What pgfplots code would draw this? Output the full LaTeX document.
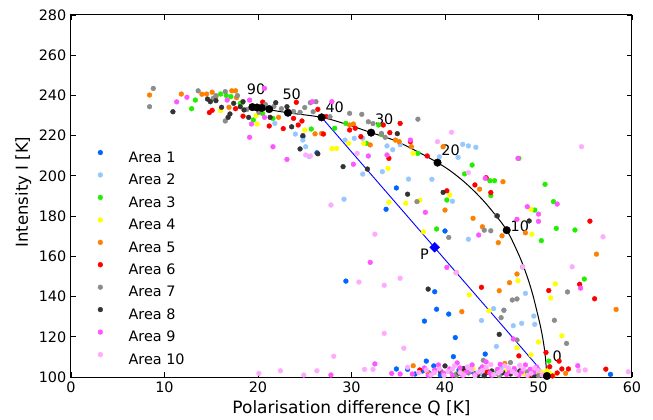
\documentclass[border=0pt]{standalone}
\usepackage{fontspec}
\setmainfont{DejaVu Sans}
\usepackage{pgfplots}
\pgfplotsset{compat=1.18}
\definecolor{c1}{RGB}{0,102,255}
\definecolor{c2}{RGB}{150,200,255}
\definecolor{c3}{RGB}{34,238,0}
\definecolor{c4}{RGB}{255,255,0}
\definecolor{c5}{RGB}{255,127,0}
\definecolor{c6}{RGB}{255,0,0}
\definecolor{c7}{RGB}{140,140,140}
\definecolor{c8}{RGB}{51,51,51}
\definecolor{c9}{RGB}{255,85,255}
\definecolor{c10}{RGB}{255,170,255}
\begin{document}
\begin{tikzpicture}
\useasboundingbox (-71bp,-43bp) rectangle (582bp,377bp);
\begin{axis}[
  at={(0,0)}, anchor=south west,
  scale only axis, width=561bp, height=362bp,
  xmin=0, xmax=60, ymin=100, ymax=280,
  xtick={0,10,...,60}, ytick={100,120,...,280},
  tick align=inside, major tick length=5bp,
  tick style={black, line width=0.8bp},
  axis line style={black, line width=1bp},
  /pgf/number format/assume math mode=true,
  ticklabel style={font=\fontsize{14.4bp}{17bp}\selectfont, inner sep=0pt},
  xticklabel style={yshift=-5bp},
  yticklabel style={xshift=-4.5bp},
  xlabel={Polarisation difference Q [K]},
  ylabel={Intensity I [K]},
  xlabel style={font=\fontsize{17bp}{20bp}\selectfont, at={([yshift=-36bp]axis description cs:0.5,0)}, anchor=base, inner sep=0pt},
  ylabel style={font=\fontsize{16.5bp}{20bp}\selectfont, at={([xshift=-43bp,yshift=4bp]axis description cs:0,0.5)}, anchor=base, inner sep=0pt},
  legend image code/.code={\path (-4bp,0bp) (28bp,0bp); \draw[#1] plot coordinates {(0bp,5.2bp)};},
  legend style={at={(axis cs:2.67,212.9)}, anchor=north west, draw=none, fill=none, inner sep=0pt,
    font=\fontsize{14.4bp}{17bp}\selectfont, row sep=8.8bp, column sep=0pt,
    nodes={inner sep=0pt}},
  legend cell align=left,
]
% Area 1
\addplot[only marks, mark=*, mark size=2.4bp, color=c1] coordinates {
(24.8,219.5)(26.3,211.5)(29.4,147.7)(34.8,194.0)(33.7,183.4)(40.0,172.6)(38.9,142.4)(39.1,133.7)
(40.4,131.3)(37.8,127.8)(41.1,119.6)(40.9,110.1)(38.0,107.9)(34.8,104.0)(36.0,103.8)(37.6,103.0)
(38.8,105.5)(44.3,111.4)(57.7,101.3)(38.3,102.0)(41.5,103.5)(43.0,102.5)(39.5,101.0)(36.8,101.5)
};
\addlegendentry{Area 1}
% Area 2
\addplot[only marks, mark=*, mark size=2.4bp, color=c2] coordinates {
(21.8,226.1)(24.0,220.8)(24.8,217.8)(25.1,214.5)(25.5,209.6)(29.3,217.8)(30.3,218.7)(29.2,188.4)
(31.2,200.9)(33.3,202.1)(33.8,214.9)(34.4,213.0)(35.2,215.5)(36.1,198.4)(38.6,198.3)(40.8,187.4)
(41.9,215.7)(42.5,214.9)(43.3,214.2)(41.4,209.2)(39.4,209.5)(31.2,218.7)(42.5,168.5)(43.9,128.1)
(46.3,133.2)(45.2,134.0)(48.6,141.6)(48.2,126.7)(47.3,125.5)(49.5,130.3)(49.6,126.2)(45.5,115.2)
(42.8,103.5)(46.0,104.5)(47.5,103.0)(44.0,101.2)
};
\addlegendentry{Area 2}
% Area 3
\addplot[only marks, mark=*, mark size=2.4bp, color=c3] coordinates {
(12.9,233.4)(13.3,237.7)(16.0,240.7)(16.6,240.0)(17.1,239.4)(18.1,236.1)(18.3,236.4)(19.5,227.8)
(21.6,228.6)(25.7,223.3)(28.2,223.7)(29.4,226.1)(31.6,216.2)(32.9,225.3)(33.2,220.5)(37.1,211.2)
(40.2,188.0)(39.1,173.6)(42.1,201.0)(42.9,205.4)(44.8,197.6)(45.3,197.6)(44.9,190.2)(47.9,208.7)
(50.7,195.8)(51.6,187.2)(51.9,173.9)(53.9,173.1)(50.3,167.8)(54.9,148.7)(51.1,107.9)(49.6,183.0)
(48.5,102.5)(50.5,101.8)(45.5,102.0)(41.2,101.5)(20.5,231.0)
};
\addlegendentry{Area 3}
% Area 4
\addplot[only marks, mark=*, mark size=2.4bp, color=c4] coordinates {
(16.0,232.4)(19.8,230.0)(19.9,225.8)(25.0,222.8)(27.9,213.5)(28.4,213.7)(29.7,216.2)(31.3,216.2)
(33.9,203.7)(34.0,186.9)(35.8,186.4)(37.3,187.9)(37.7,172.2)(36.6,211.2)(40.5,190.5)(42.6,140.8)
(44.7,132.9)(47.8,147.9)(49.3,171.0)(49.2,183.4)(51.3,139.3)(51.8,146.3)(47.7,114.5)(49.2,111.0)
(50.0,117.4)(52.5,120.5)(50.6,101.5)(51.2,101.8)(50.3,102.5)(49.8,101.2)(48.5,101.5)(46.5,102.8)
(43.0,104.0)(51.6,100.8)(50.9,103.0)
};
\addlegendentry{Area 4}
% Area 5
\addplot[only marks, mark=*, mark size=2.4bp, color=c5] coordinates {
(8.4,240.2)(11.8,240.7)(14.0,240.6)(14.5,240.7)(15.1,241.6)(15.5,239.4)(16.9,234.1)(17.2,242.3)
(17.6,242.3)(17.7,238.9)(22.2,229.1)(26.1,220.9)(26.8,221.1)(29.8,225.3)(30.2,225.8)(32.0,215.4)
(34.7,217.8)(35.1,217.0)(36.4,214.5)(39.8,214.5)(40.0,183.0)(43.0,178.9)(43.7,193.4)(46.2,197.1)
(44.0,174.7)(45.7,166.8)(46.1,170.2)(48.6,171.7)(41.2,151.9)(41.8,132.5)(45.8,142.9)(46.9,146.9)
(47.7,151.2)(56.2,161.1)(58.3,133.6)(36.6,105.6)(38.2,101.8)(46.4,106.7)(52.9,101.8)(44.5,103.0)
(41.8,102.0)
};
\addlegendentry{Area 5}
% Area 6
\addplot[only marks, mark=*, mark size=2.4bp, color=c6] coordinates {
(14.8,231.5)(15.1,232.6)(17.6,233.4)(18.4,229.7)(20.5,236.7)(21.2,224.8)(22.7,223.5)(23.8,228.6)
(24.1,236.6)(24.3,225.3)(24.7,227.3)(26.4,233.1)(27.0,220.8)(27.3,229.5)(29.8,222.8)(30.4,223.7)
(31.0,219.5)(33.4,225.3)(34.0,208.7)(34.1,221.5)(35.2,226.1)(36.3,217.0)(38.1,209.9)(40.2,192.6)
(43.2,195.5)(44.4,199.1)(44.9,191.7)(43.9,144.6)(51.1,143.0)(54.4,146.1)(55.5,177.5)(56.0,138.9)
(47.9,110.5)(50.8,112.2)(51.2,105.1)(52.2,107.9)(52.5,104.0)(53.2,104.0)(57.2,103.9)(37.3,103.5)
(44.5,102.2)(49.0,100.8)(51.5,100.5)(52.0,102.0)
};
\addlegendentry{Area 6}
% Area 7
\addplot[only marks, mark=*, mark size=2.4bp, color=c7] coordinates {
(8.8,243.5)(8.4,234.4)(13.6,242.3)(15.2,238.5)(15.5,239.9)(16.5,241.9)(16.5,227.3)(17.8,239.9)
(20.1,231.6)(22.5,233.4)(24.5,231.6)(25.6,236.4)(25.9,231.9)(26.2,236.9)(27.7,229.4)(29.8,231.1)
(31.1,230.6)(31.8,226.9)(32.3,226.0)(33.2,221.1)(33.6,219.2)(37.1,228.2)(37.0,187.2)(40.4,169.4)
(44.9,172.7)(44.2,173.0)(45.5,180.2)(46.0,129.5)(46.3,133.2)(47.2,138.3)(47.7,138.8)(48.3,154.7)
(51.7,128.2)(53.1,142.3)(53.0,116.7)(47.0,107.2)(44.1,108.3)(47.7,118.4)(40.5,103.0)(42.5,102.0)
(46.0,101.5)(48.8,102.5)(20.8,235.5)(23.8,232.0)(25.0,234.0)(21.7,234.5)(18.8,233.0)
(41.2,100.8)(43.8,104.0)(45.8,100.7)(47.8,101.8)(50.0,100.7)
};
\addlegendentry{Area 7}
% Area 8
\addplot[only marks, mark=*, mark size=2.4bp, color=c8] coordinates {
(10.9,231.9)(14.6,238.2)(14.9,236.9)(15.5,237.4)(16.1,234.1)(16.8,229.1)(17.0,230.8)(17.4,236.1)
(18.1,234.4)(18.4,236.9)(18.5,232.8)(19.0,229.1)(21.3,229.1)(21.9,236.4)(23.1,234.4)(23.6,224.4)
(24.5,213.4)(24.8,220.0)(26.4,211.0)(29.1,204.6)(31.7,203.4)(34.9,221.0)(36.0,190.9)(39.8,191.8)
(38.2,143.7)(45.6,180.1)(49.0,177.6)(45.8,121.2)(40.0,105.5)(41.5,102.0)(43.5,101.0)(45.0,103.0)
(47.0,101.5)(49.5,101.0)(50.9,100.3)(39.5,103.0)(42.0,104.2)(44.2,100.6)(46.2,102.2)(48.0,103.0)
};
\addlegendentry{Area 8}
% Area 9
\addplot[only marks, mark=*, mark size=2.4bp, color=c9] coordinates {
(11.3,236.8)(12.4,239.1)(16.7,237.7)(19.1,237.7)(19.1,219.2)(19.3,225.8)(20.7,243.5)(20.7,229.1)
(21.6,214.5)(23.1,208.2)(25.8,236.9)(27.9,236.9)(30.2,205.8)(31.8,209.9)(33.8,210.4)(36.3,217.8)
(37.9,181.9)(40.2,154.5)(43.6,170.6)(44.3,198.8)(47.7,178.4)(47.8,208.7)(48.8,184.7)(50.0,177.4)
(50.0,181.0)(52.0,186.0)(54.5,144.2)(32.0,157.0)(32.5,106.5)(27.8,101.0)(34.3,101.8)(35.2,101.5)
(47.3,118.9)(54.2,105.6)(38.9,103.5)(39.8,102.0)(40.8,101.0)(41.6,104.5)(42.3,102.5)(43.2,101.3)
(44.0,105.0)(44.8,102.0)(45.6,103.8)(46.6,101.2)(47.4,104.2)(48.2,102.6)(49.1,103.8)(49.8,105.0)
(36.5,101.5)(37.8,104.5)(39.3,106.0)(40.5,104.0)(41.9,100.8)(42.9,106.0)(43.8,103.0)(45.0,100.8)
(45.9,106.3)(46.9,102.8)(47.9,100.9)(48.6,106.0)(49.5,102.3)(38.2,100.8)(44.4,107.5)(41.3,107.0)
};
\addlegendentry{Area 9}
% Area 10
\addplot[only marks, mark=*, mark size=2.4bp, color=c10] coordinates {
(25.6,209.9)(25.1,210.4)(27.8,185.5)(30.6,211.2)(32.5,171.0)(30.8,147.2)(33.5,145.6)(35.2,149.1)
(33.5,121.7)(35.6,114.3)(28.1,110.3)(26.3,103.1)(24.9,101.0)(20.1,101.8)(22.4,103.1)(31.4,103.8)
(32.3,103.8)(39.2,217.0)(40.7,221.7)(42.5,201.6)(41.2,151.9)(48.3,154.7)(53.6,154.8)(54.6,214.5)
(56.9,169.7)(55.0,103.5)(54.3,103.1)(59.6,102.6)(38.5,101.0)(39.4,104.0)(40.3,102.8)(41.0,105.5)
(42.0,101.0)(42.8,103.8)(43.6,102.5)(44.4,104.8)(45.2,101.2)(46.0,103.0)(46.8,104.5)(47.6,101.5)
(48.4,104.0)(49.2,101.8)(50.0,103.2)(38.0,103.5)(38.9,102.2)(39.9,100.7)(40.8,103.9)(41.6,102.2)
(42.4,105.0)(43.2,100.6)(44.0,103.2)(44.9,106.2)(45.7,102.0)(46.4,105.6)(47.2,102.6)(48.0,105.8)
(48.8,100.8)(49.6,104.5)(37.2,102.2)(36.0,104.8)(50.4,101.0)
};
\addlegendentry{Area 10}
% model curve
\addplot[black, line width=1bp, smooth, tension=0.6, forget plot] coordinates {
(19.4,234.2)(23.2,231.4)(26.8,229.1)(29.5,225.6)(32.1,221.5)(35.0,216.8)
(39.2,206.6)(41.6,198.8)(43.7,189.7)(45.4,180.5)(46.6,173.0)(47.6,163.8)(48.4,155.0)
(49.2,144.0)(49.8,133.3)(50.35,122.0)(50.7,111.5)(50.9,100.0)
};
\addplot[blue, line width=0.9bp, forget plot] coordinates {(26.8,229.1)(50.9,100.0)};
\addplot[only marks, mark=*, mark size=3.8bp, black, forget plot] coordinates {
(19.4,234.2)(19.9,234.0)(20.4,233.8)(21.2,233.2)(23.2,231.4)(26.8,229.1)(32.1,221.5)(39.2,206.6)
(46.6,173.0)(50.9,100.5)
};
\addplot[only marks, mark=square*, mark size=3.5bp, mark options={rotate=45}, blue, forget plot] coordinates {(38.9,164.5)};
\begin{scope}[every node/.style={inner sep=0pt, font=\fontsize{14.4bp}{17bp}\selectfont}]
\node[anchor=south west] at (axis cs:18.8,240.1) {90};
\node[anchor=south west] at (axis cs:22.6,237.8) {50};
\node[anchor=south west] at (axis cs:27.2,231.2) {40};
\node[anchor=south west] at (axis cs:32.5,225.6) {30};
\node[anchor=south west] at (axis cs:39.6,210.0) {20};
\node[anchor=south west] at (axis cs:47.0,172.2) {10};
\node[anchor=south west] at (axis cs:51.5,107.6) {0};
\node[anchor=south east] at (axis cs:38.3,158.2) {P};
\end{scope}
\end{axis}
\end{tikzpicture}
\end{document}
